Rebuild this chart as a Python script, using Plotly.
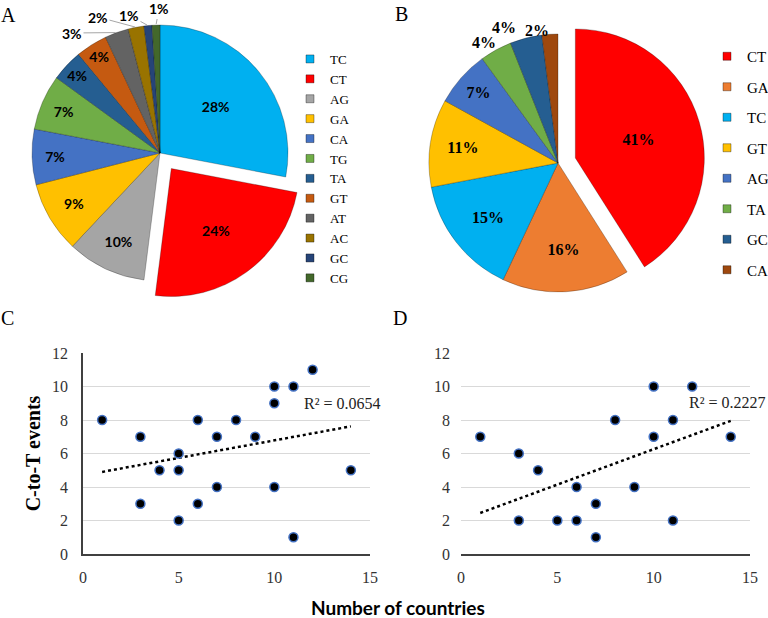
import math
import plotly.graph_objects as go

# Panel A - mutation classes (all sequences)
a_labels = ["TC", "CT", "AG", "GA", "CA", "TG", "TA", "GT", "AT", "AC", "GC", "CG"]
a_values = [28, 24, 10, 9, 7, 7, 4, 4, 3, 2, 1, 1]
a_colors = ["#00B0F0", "#FF0000", "#A5A5A5", "#FFC000", "#4472C4", "#70AD47",
            "#255E91", "#C55A11", "#636363", "#997300", "#264478", "#43682B"]

# Panel B - mutation classes (subset)
b_labels = ["CT", "GA", "TC", "GT", "AG", "TA", "GC", "CA"]
b_values = [41, 16, 15, 11, 7, 4, 4, 2]
b_colors = ["#FF0000", "#ED7D31", "#00B0F0", "#FFC000", "#4472C4", "#70AD47",
            "#255E91", "#9E480E"]

# Panel C - countries vs C-to-T events
c_x = [1, 3, 3, 4, 5, 5, 5, 6, 6, 7, 7, 8, 9, 10, 10, 10, 11, 11, 12, 14]
c_y = [8, 7, 3, 5, 6, 5, 2, 8, 3, 7, 4, 8, 7, 10, 9, 4, 10, 1, 11, 5]
c_trend_x = [1, 14]
c_trend_y = [4.9, 7.62]
c_r2 = "R² = 0.0654"

# Panel D
d_x = [1, 3, 3, 4, 5, 6, 6, 7, 7, 8, 9, 10, 10, 11, 11, 12, 14]
d_y = [7, 6, 2, 5, 2, 4, 2, 3, 1, 8, 4, 10, 7, 8, 2, 10, 7]
d_trend_x = [1, 14]
d_trend_y = [2.45, 7.95]
d_r2 = "R² = 0.2227"

W, H = 768, 618
SERIF = "Liberation Serif, Times New Roman, serif"
SANS = "Lato, Open Sans, sans-serif"


def px_x(v):
    return v / W


def px_y(v):
    return 1 - v / H


# pie geometry (pixels)
A_CX, A_CY, A_R, A_PULL = 160, 153, 128, 0.15
B_CX, B_CY, B_R, B_PULL = 558, 163, 129, 0.14
A_INSIDE = 8   # first n slices labelled inside
B_INSIDE = 5

# where the small outside labels sit (pixels)
a_out_pos = [(72, 33), (98, 17), (129, 15), (159, 9)]
b_out_pos = [(484, 32), (518, 17), (551, 20)]


def pie_domain(cx, cy, r, pull):
    half = r * (1 + pull)
    return dict(x=[px_x(cx - half), px_x(cx + half)],
                y=[px_y(cy + half), px_y(cy - half)])


fig = go.Figure()

fig.add_trace(go.Pie(
    labels=a_labels, values=a_values, sort=False, direction="clockwise",
    marker=dict(colors=a_colors, line=dict(color="rgba(0,0,0,0.25)", width=1)),
    pull=[0, A_PULL] + [0] * 10,
    texttemplate=["%{percent:.0%}"] * A_INSIDE + [""] * (len(a_values) - A_INSIDE),
    textposition="inside",
    insidetextorientation="horizontal",
    textfont=dict(family=SANS, size=14, color="black", weight="bold"),
    domain=pie_domain(A_CX, A_CY, A_R, A_PULL),
    showlegend=False, hoverinfo="label+percent",
))

fig.add_trace(go.Pie(
    labels=b_labels, values=b_values, sort=False, direction="clockwise",
    marker=dict(colors=b_colors, line=dict(color="rgba(0,0,0,0.25)", width=1)),
    pull=[B_PULL] + [0] * 7,
    texttemplate=["%{percent:.0%}"] * B_INSIDE + [""] * (len(b_values) - B_INSIDE),
    textposition="inside",
    insidetextorientation="horizontal",
    textfont=dict(family=SERIF, size=16, color="black", weight="bold"),
    domain=pie_domain(B_CX, B_CY, B_R, B_PULL),
    showlegend=False, hoverinfo="label+percent",
))

# legend entries for the pies
for lab, col in zip(a_labels, a_colors):
    fig.add_trace(go.Scatter(
        x=[None], y=[None], mode="markers", name=lab, legend="legend",
        marker=dict(symbol="square", size=8, color=col,
                    line=dict(color="rgba(0,0,0,0.35)", width=1)),
    ))
for lab, col in zip(b_labels, b_colors):
    fig.add_trace(go.Scatter(
        x=[None], y=[None], mode="markers", name=lab, legend="legend2",
        legendgroup="b_" + lab,
        marker=dict(symbol="square", size=8, color=col,
                    line=dict(color="rgba(0,0,0,0.35)", width=1)),
    ))

marker_style = dict(size=9, color="black", line=dict(color="#4472C4", width=1.5))

# scatter C
fig.add_trace(go.Scatter(x=c_trend_x, y=c_trend_y, mode="lines", showlegend=False,
                         line=dict(color="black", width=2.5, dash="dot")))
fig.add_trace(go.Scatter(x=c_x, y=c_y, mode="markers", showlegend=False, marker=marker_style))

# scatter D
fig.add_trace(go.Scatter(x=d_trend_x, y=d_trend_y, mode="lines", showlegend=False,
                         xaxis="x2", yaxis="y2",
                         line=dict(color="black", width=2.5, dash="dot")))
fig.add_trace(go.Scatter(x=d_x, y=d_y, mode="markers", showlegend=False,
                         xaxis="x2", yaxis="y2", marker=marker_style))

tickfont = dict(family=SERIF, size=16, color="#333")
xcommon = dict(range=[0, 15], dtick=5, showgrid=False, zeroline=False, showline=True,
               linewidth=1.5, ticks="", tickfont=tickfont, ticklabelstandoff=8,
               fixedrange=True)
ycommon = dict(range=[0, 12], dtick=2, showgrid=True, gridcolor="#D9D9D9", gridwidth=1,
               zeroline=False, ticks="", tickfont=tickfont, ticklabelstandoff=10,
               fixedrange=True)

fig.update_layout(
    width=W, height=H,
    margin=dict(l=0, r=0, t=0, b=0, autoexpand=False),
    paper_bgcolor="white", plot_bgcolor="white",
    font=dict(family=SERIF, color="black"),
    xaxis=dict(xcommon, domain=[px_x(83), px_x(370)], linecolor="#404040", anchor="y"),
    yaxis=dict(ycommon, domain=[px_y(554), px_y(353)], anchor="x",
               showline=True, linecolor="#404040", linewidth=1.5,
               title=dict(text="<b>C-to-T events</b>", standoff=6,
                          font=dict(family=SERIF, size=20, color="black"))),
    xaxis2=dict(xcommon, domain=[px_x(461), px_x(750)], linecolor="#404040",
                linewidth=2, anchor="y2"),
    yaxis2=dict(ycommon, domain=[px_y(554), px_y(353)], anchor="x2", showline=False),
    legend=dict(x=px_x(290), xanchor="left", y=px_y(44), yanchor="top",
                bgcolor="rgba(0,0,0,0)", itemwidth=30,
                font=dict(family=SERIF, size=13, color="black")),
    legend2=dict(x=px_x(707), xanchor="left", y=px_y(40), yanchor="top",
                 bgcolor="rgba(0,0,0,0)", itemwidth=30, traceorder="grouped",
                 tracegroupgap=8,
                 font=dict(family=SERIF, size=15, color="black")),
)


def rim_point(cx, cy, r, values, i):
    total = sum(values)
    mid = (sum(values[:i]) + values[i] / 2) / total
    ang = 2 * math.pi * mid
    return cx + r * math.sin(ang), cy - r * math.cos(ang)


# outside labels of the small slices in A, with leader lines
for k, (lx, ly) in enumerate(a_out_pos):
    i = A_INSIDE + k
    rx, ry = rim_point(A_CX, A_CY, A_R, a_values, i)
    fig.add_annotation(text="<b>%d%%</b>" % a_values[i], xref="paper", yref="paper",
                       x=px_x(rx), y=px_y(ry), ax=lx - rx, ay=ly - ry,
                       showarrow=True, arrowhead=0, arrowwidth=1, arrowcolor="#A6A6A6",
                       standoff=1, font=dict(family=SANS, size=14, color="black"))

# outside labels of the small slices in B
for k, (lx, ly) in enumerate(b_out_pos):
    i = B_INSIDE + k
    fig.add_annotation(text="<b>%d%%</b>" % b_values[i], xref="paper", yref="paper",
                       x=px_x(lx), y=px_y(ly), showarrow=False,
                       font=dict(family=SERIF, size=16, color="black"))

panel_letters = [
    dict(text="A", x=px_x(8), y=px_y(15)),
    dict(text="B", x=px_x(401), y=px_y(14)),
    dict(text="C", x=px_x(7), y=px_y(318)),
    dict(text="D", x=px_x(400), y=px_y(318)),
]
for a in panel_letters:
    fig.add_annotation(xref="paper", yref="paper", xanchor="center", yanchor="middle",
                       showarrow=False, font=dict(family=SERIF, size=20, color="black"), **a)

fig.add_annotation(text=c_r2, xref="paper", yref="paper", x=px_x(302), y=px_y(403),
                   xanchor="left", yanchor="middle", showarrow=False,
                   font=dict(family=SERIF, size=16, color="#222"))
fig.add_annotation(text=d_r2, xref="paper", yref="paper", x=px_x(687), y=px_y(402),
                   xanchor="left", yanchor="middle", showarrow=False,
                   font=dict(family=SERIF, size=16, color="#222"))
fig.add_annotation(text="<b>Number of countries</b>", xref="paper", yref="paper",
                   x=px_x(398), y=px_y(607), xanchor="center", yanchor="middle",
                   showarrow=False, font=dict(family=SANS, size=19, color="black"))

# drop the browser's default 8px body margin so the figure fills the window
fig.write_html("out.html", config={"displayModeBar": False},
               post_script="document.body.style.margin='0px';")
